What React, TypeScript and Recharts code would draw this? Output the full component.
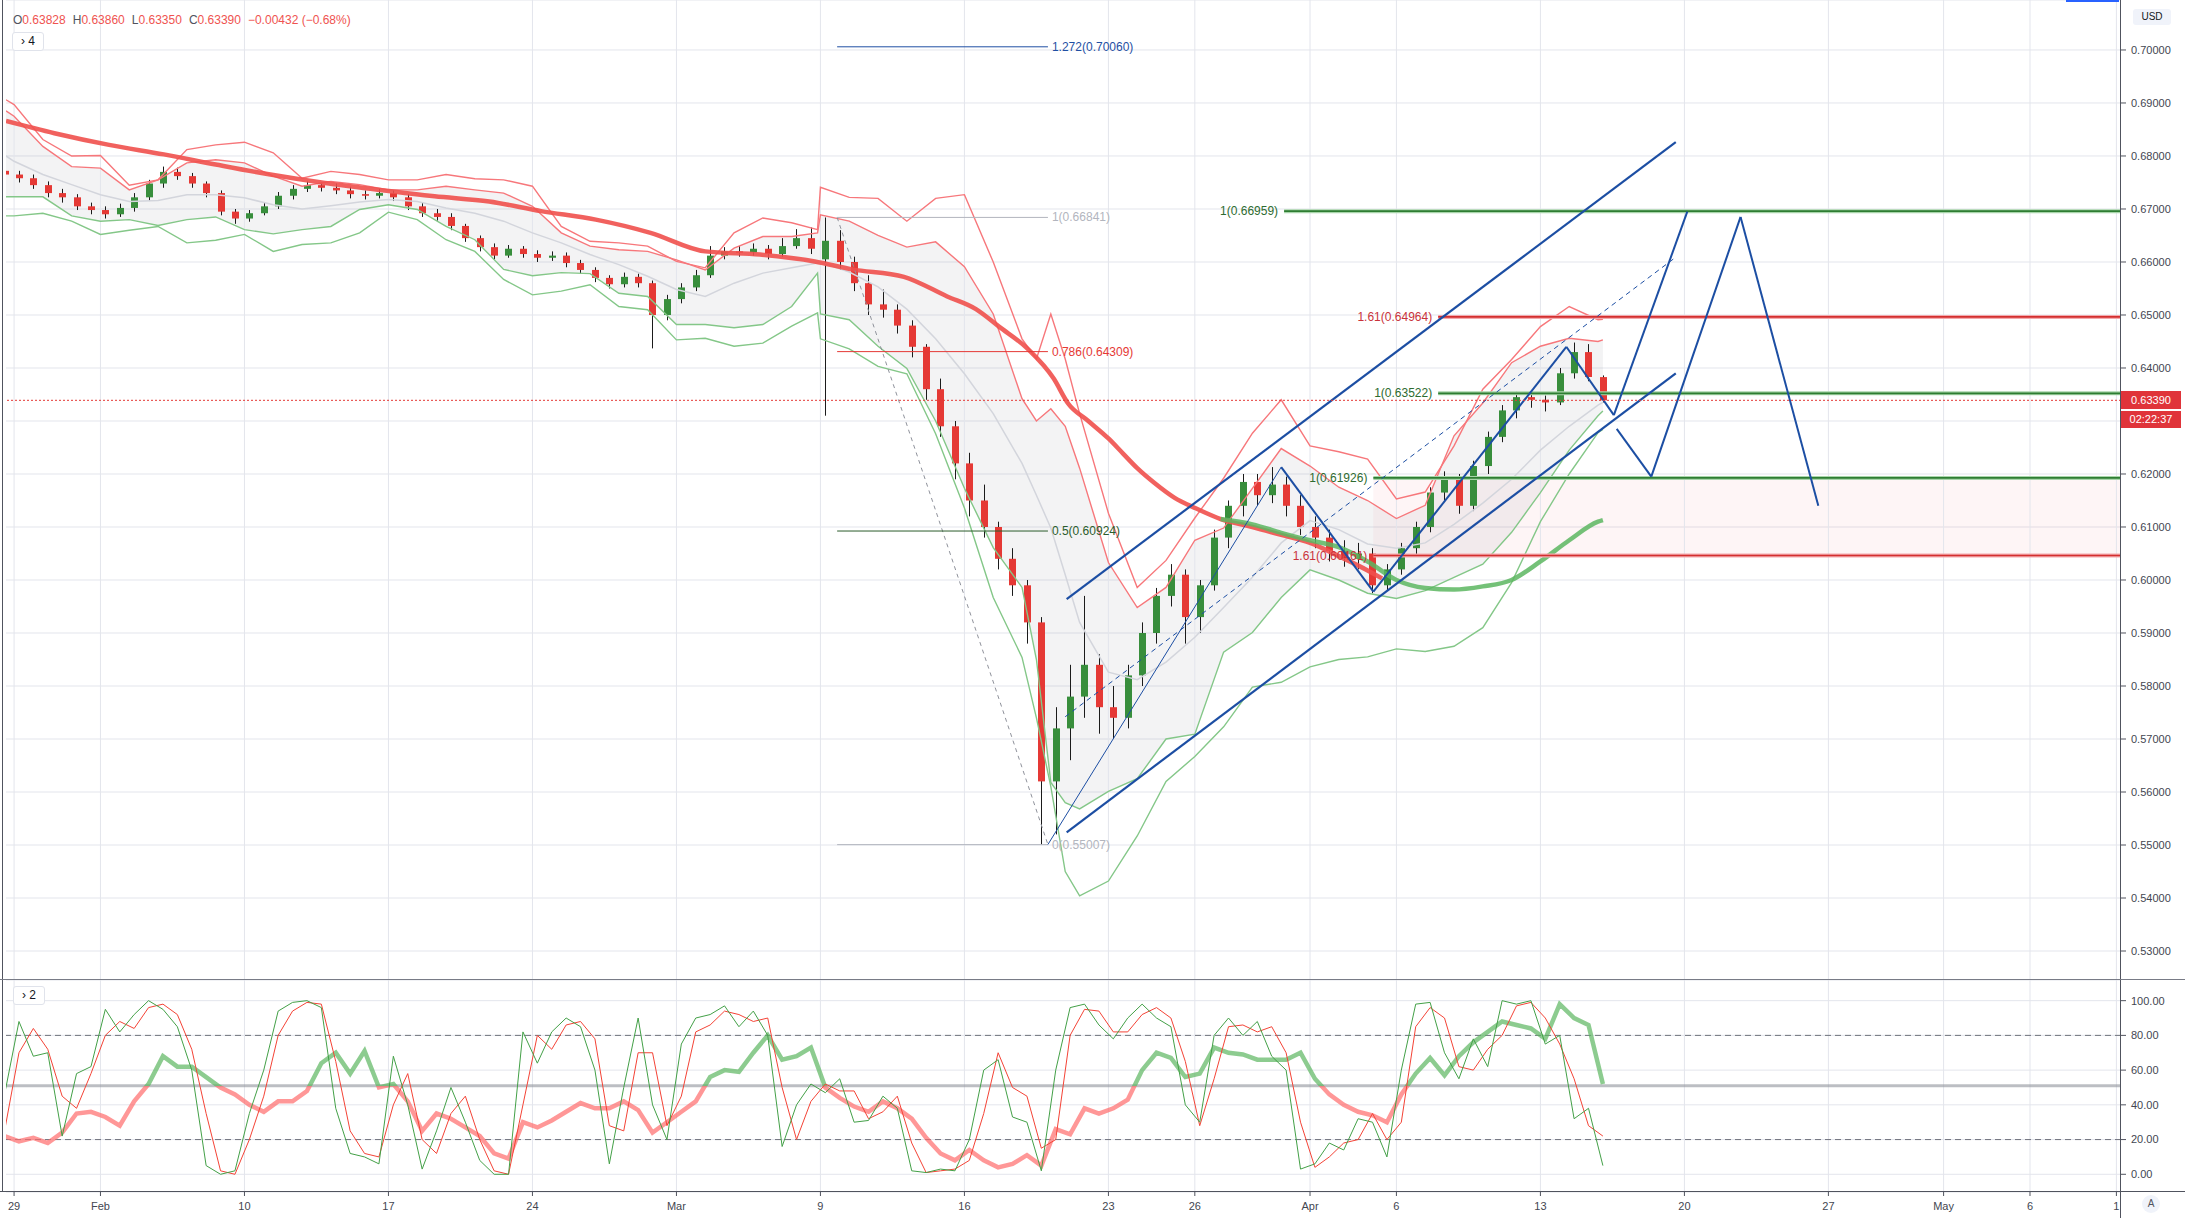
import React from "react";
import {
  ComposedChart,
  Bar,
  Line,
  Area,
  XAxis,
  YAxis,
  CartesianGrid,
  ReferenceLine,
  ReferenceArea,
} from "recharts";

// x is the trading-day index counted from Jan 29 (weekends removed)

const WIDTH = 2185;
const MAIN_H = 980;
const OSC_H = 238;
const AXIS_W = 64;
const TIME_AXIS_H = 26;
const BODY_W = 7;
const FONT = '"Liberation Sans", Arial, sans-serif';

const X_DOMAIN: [number, number] = [-0.28, 73.16];
const PRICE_DOMAIN: [number, number] = [0.52453, 0.70943];
const OSC_DOMAIN: [number, number] = [-10.2, 111.9];

const tickDays = [0, 3, 8, 13, 18, 23, 28, 33, 38, 41, 45, 48, 53, 58, 63, 67, 70, 73];
const tickLabels = ["29", "Feb", "10", "17", "24", "Mar", "9", "16", "23", "26", "Apr", "6", "13", "20", "27", "May", "6", "1"];
const priceTicks = [0.53, 0.54, 0.55, 0.56, 0.57, 0.58, 0.59, 0.6, 0.61, 0.62, 0.63, 0.64, 0.65, 0.66, 0.67, 0.68, 0.69, 0.7];
const oscTicks = [0, 20, 40, 60, 80, 100];

// candles, two per trading day
const opens = [
  0.6772, 0.6765, 0.6758, 0.6745, 0.673, 0.6722, 0.6705, 0.6698, 0.669, 0.6702,
  0.6722, 0.6748, 0.677, 0.6762, 0.6748, 0.673, 0.6695, 0.6682, 0.6692, 0.6705,
  0.6725, 0.6738, 0.6745, 0.674, 0.6735, 0.6728, 0.6725, 0.673, 0.6722, 0.6705,
  0.6692, 0.6685, 0.6668, 0.6645, 0.6628, 0.6612, 0.6625, 0.6615, 0.6608, 0.6612,
  0.6598, 0.6585, 0.657, 0.6558, 0.6572, 0.656, 0.65, 0.653, 0.6552, 0.6575,
  0.6612, 0.662, 0.6618, 0.6625, 0.6615, 0.663, 0.6645, 0.6605, 0.664, 0.66,
  0.656, 0.652, 0.651, 0.648, 0.644, 0.636, 0.629, 0.622, 0.615, 0.61,
  0.604, 0.599, 0.592, 0.562, 0.572, 0.578, 0.584, 0.576, 0.574, 0.582,
  0.59, 0.597, 0.601, 0.593, 0.599, 0.608, 0.614, 0.6185, 0.616, 0.618,
  0.614, 0.61, 0.608, 0.6055, 0.604, 0.605, 0.599, 0.602, 0.606, 0.61,
  0.6165, 0.619, 0.614, 0.6215, 0.627, 0.632, 0.6345, 0.634, 0.6335, 0.639,
  0.643, 0.63828,
];
const highs = [
  0.6778, 0.6772, 0.6765, 0.6752, 0.6738, 0.6728, 0.6712, 0.6705, 0.671, 0.673,
  0.6755, 0.678, 0.6778, 0.6768, 0.6752, 0.6735, 0.67, 0.6698, 0.6712, 0.6732,
  0.6745, 0.6752, 0.675, 0.6748, 0.6742, 0.6735, 0.6738, 0.6735, 0.6728, 0.6712,
  0.67, 0.6692, 0.6672, 0.665, 0.6635, 0.6632, 0.663, 0.6622, 0.662, 0.6618,
  0.6604, 0.659, 0.6575, 0.658, 0.6578, 0.6565, 0.6538, 0.656, 0.6585, 0.663,
  0.6628, 0.663, 0.6635, 0.6632, 0.6645, 0.6662, 0.6665, 0.6684, 0.666, 0.661,
  0.6575, 0.6548, 0.652, 0.649, 0.6445, 0.638, 0.63, 0.624, 0.618, 0.611,
  0.606, 0.6, 0.593, 0.576, 0.584, 0.597, 0.586, 0.58, 0.584, 0.592,
  0.5985, 0.603, 0.602, 0.6, 0.6095, 0.615, 0.62, 0.62, 0.6213, 0.6195,
  0.616, 0.612, 0.6095, 0.6075, 0.607, 0.606, 0.603, 0.607, 0.611, 0.6175,
  0.6205, 0.62, 0.6225, 0.628, 0.633, 0.6355, 0.6352, 0.6348, 0.64, 0.6448,
  0.6445, 0.6386,
];
const lows = [
  0.676, 0.675, 0.6738, 0.6722, 0.6712, 0.6698, 0.669, 0.6682, 0.6685, 0.6695,
  0.6715, 0.674, 0.6755, 0.674, 0.6722, 0.6688, 0.6672, 0.6676, 0.6688, 0.67,
  0.6718, 0.6732, 0.6733, 0.6728, 0.672, 0.6718, 0.672, 0.6715, 0.6698, 0.6685,
  0.6678, 0.666, 0.6638, 0.662, 0.6605, 0.6608, 0.6608, 0.66, 0.6602, 0.659,
  0.6578, 0.6562, 0.655, 0.6552, 0.6552, 0.6437, 0.649, 0.6522, 0.6545, 0.657,
  0.6605, 0.661, 0.6612, 0.6605, 0.661, 0.6625, 0.6615, 0.631, 0.6585, 0.6545,
  0.65, 0.6495, 0.6465, 0.642, 0.634, 0.627, 0.619, 0.612, 0.608, 0.602,
  0.597, 0.588, 0.5501, 0.552, 0.566, 0.574, 0.571, 0.57, 0.572, 0.58,
  0.588, 0.595, 0.588, 0.59, 0.598, 0.606, 0.612, 0.614, 0.6145, 0.612,
  0.6085, 0.606, 0.6035, 0.6025, 0.602, 0.5975, 0.598, 0.601, 0.6045, 0.609,
  0.615, 0.6125, 0.613, 0.62, 0.626, 0.6305, 0.6325, 0.6318, 0.633, 0.638,
  0.6375, 0.6335,
];
const closes = [
  0.6765, 0.6758, 0.6745, 0.673, 0.6722, 0.6705, 0.6698, 0.669, 0.6702, 0.6722,
  0.6748, 0.677, 0.6762, 0.6748, 0.673, 0.6695, 0.6682, 0.6692, 0.6705, 0.6725,
  0.6738, 0.6745, 0.674, 0.6735, 0.6728, 0.6725, 0.673, 0.6722, 0.6705, 0.6692,
  0.6685, 0.6668, 0.6645, 0.6628, 0.6612, 0.6625, 0.6615, 0.6608, 0.6612, 0.6598,
  0.6585, 0.657, 0.6558, 0.6572, 0.656, 0.65, 0.653, 0.6552, 0.6575, 0.6612,
  0.662, 0.6618, 0.6625, 0.6615, 0.663, 0.6645, 0.6625, 0.664, 0.66, 0.656,
  0.652, 0.651, 0.648, 0.644, 0.636, 0.629, 0.622, 0.615, 0.61, 0.604,
  0.599, 0.592, 0.562, 0.572, 0.578, 0.584, 0.576, 0.574, 0.582, 0.59,
  0.597, 0.601, 0.593, 0.599, 0.608, 0.614, 0.6185, 0.616, 0.618, 0.614,
  0.61, 0.608, 0.6055, 0.604, 0.605, 0.599, 0.602, 0.606, 0.61, 0.6165,
  0.619, 0.614, 0.6215, 0.627, 0.632, 0.6345, 0.634, 0.6335, 0.639, 0.643,
  0.6383, 0.6339,
];

// envelope lines, read once per day (plus a few extra points at the spikes)
const bandDays = [
  -0.28, 0, 1, 2, 3, 4, 5, 6, 7, 8, 9, 10, 11, 12, 13, 14, 15, 16, 17, 18, 19, 20,
  21, 22, 23, 24, 25, 26, 27, 27.9, 28, 29, 30, 31, 32, 33, 34, 35, 35.5, 36, 36.5,
  37, 38, 39, 40, 41, 42, 43, 44, 45, 46, 47, 48, 49, 50, 51, 52, 53, 54, 55, 55.17,
];
const upperOuter = [
  0.6906, 0.6897, 0.6831, 0.68, 0.6801, 0.6745, 0.6755, 0.6812, 0.6821, 0.6826, 0.6806, 0.6758,
  0.6771, 0.6765, 0.6755, 0.6755, 0.6765, 0.6757, 0.6755, 0.6743, 0.6667, 0.6639, 0.6636, 0.663,
  0.6601, 0.6589, 0.6655, 0.6683, 0.6674, 0.6661, 0.6741, 0.6722, 0.672, 0.6677, 0.672, 0.6727,
  0.66, 0.6455, 0.6417, 0.6502, 0.6417, 0.6314, 0.6126, 0.5986, 0.6037, 0.6117, 0.6192, 0.6277,
  0.634, 0.6253, 0.6242, 0.6228, 0.6153, 0.6166, 0.6253, 0.636, 0.6416, 0.6478, 0.6516, 0.6491,
  0.6492,
];
const upperInner = [
  0.6885, 0.6875, 0.6818, 0.678, 0.6777, 0.6736, 0.6755, 0.6787, 0.6793, 0.6787, 0.6762, 0.6743,
  0.6752, 0.6746, 0.6736, 0.6736, 0.6743, 0.6736, 0.673, 0.6705, 0.6655, 0.663, 0.6623, 0.662,
  0.6604, 0.6585, 0.6626, 0.6648, 0.6648, 0.6655, 0.6689, 0.6677, 0.665, 0.6628, 0.6638, 0.6591,
  0.6502, 0.6342, 0.63, 0.6323, 0.629, 0.6211, 0.6033, 0.5948, 0.5986, 0.6075, 0.6098, 0.6173,
  0.6248, 0.6215, 0.6175, 0.615, 0.6116, 0.6141, 0.6272, 0.6334, 0.641, 0.6441, 0.6456, 0.645,
  0.6453,
];
const middleBand = [
  0.68, 0.679, 0.6765, 0.6746, 0.6727, 0.6714, 0.6716, 0.6727, 0.6727, 0.6721, 0.6708, 0.67,
  0.6706, 0.6713, 0.6718, 0.6714, 0.6702, 0.6692, 0.6677, 0.6655, 0.6636, 0.6614, 0.6595, 0.6573,
  0.6548, 0.6535, 0.656, 0.6579, 0.6589, 0.6598, 0.66, 0.6581, 0.6553, 0.6511, 0.6455, 0.6389,
  0.6314, 0.622, 0.616, 0.6098, 0.601, 0.592, 0.5826, 0.5812, 0.5845, 0.5892, 0.5948, 0.6005,
  0.607, 0.6112, 0.6095, 0.6068, 0.606, 0.607, 0.6105, 0.6145, 0.619, 0.6245, 0.629, 0.633,
  0.6335,
];
const lowerInner = [
  0.6723, 0.6723, 0.6723, 0.6687, 0.6677, 0.668, 0.6669, 0.668, 0.6685, 0.6661, 0.6653, 0.6661,
  0.6667, 0.6699, 0.6708, 0.6699, 0.6667, 0.6642, 0.6586, 0.6574, 0.658, 0.6578, 0.6541, 0.6535,
  0.6482, 0.6482, 0.6476, 0.6482, 0.6516, 0.6579, 0.6502, 0.6491, 0.6441, 0.6399, 0.63, 0.6173,
  0.6061, 0.5986, 0.585, 0.5618, 0.558, 0.5568, 0.5601, 0.5625, 0.57, 0.5709, 0.5864, 0.5901,
  0.5967, 0.6019, 0.6, 0.5975, 0.5965, 0.598, 0.6005, 0.603, 0.609, 0.6165, 0.6245, 0.631,
  0.6319,
];
const lowerOuter = [
  0.6687, 0.6687, 0.6692, 0.6677, 0.6652, 0.666, 0.6667, 0.6636, 0.6641, 0.6652, 0.662, 0.6633,
  0.6636, 0.6655, 0.6694, 0.668, 0.6642, 0.662, 0.6567, 0.6538, 0.6545, 0.6557, 0.6516, 0.651,
  0.6453, 0.6456, 0.6441, 0.6447, 0.6479, 0.6504, 0.6455, 0.6436, 0.6403, 0.6389, 0.6276, 0.6136,
  0.5967, 0.5854, 0.574, 0.561, 0.545, 0.5404, 0.5432, 0.5517, 0.562, 0.5667, 0.5723, 0.5798,
  0.5807, 0.5836, 0.585, 0.5855, 0.587, 0.5865, 0.5875, 0.591, 0.5995, 0.611, 0.62, 0.6278,
  0.6284,
];

// thick moving averages
const maRedDays = [
  -0.28, 1.4, 3.3, 5.2, 7, 8.9, 10.8, 12.7, 14.6, 16.5, 18.3, 20.2, 22.1, 24, 25.9, 27.8, 29.1, 30.9, 32.4,
  33.4, 34.2, 35.2, 36.1, 36.6, 37.3, 38, 38.5, 39, 39.6, 40.3, 41, 41.9, 43, 44, 45, 46, 47, 47.5,
];
const maRed = [
  0.6866, 0.6843, 0.6821, 0.6803, 0.6784, 0.6765, 0.6749, 0.6736, 0.6724, 0.6714, 0.6696, 0.668, 0.6655,
  0.662, 0.6614, 0.6601, 0.6586, 0.6572, 0.6535, 0.6511, 0.6478, 0.6436, 0.638, 0.6333, 0.63, 0.6267,
  0.6239, 0.6211, 0.6183, 0.6155, 0.6136, 0.6115, 0.61, 0.6085, 0.607, 0.6045, 0.6018, 0.6003,
];
const maGreenDays = [41.9, 43, 44, 45, 46, 47, 48, 49, 50, 51, 52, 53, 54, 55, 55.17];
const maGreen = [0.6115, 0.6105, 0.6089, 0.6075, 0.6062, 0.6035, 0.6, 0.5985, 0.5982, 0.5988, 0.6, 0.6035, 0.6075, 0.611, 0.6113];

// lower pane: fast stochastic, slow stochastic, thick momentum line
const stochK = [
  46, 88, 68, 70, 22, 58, 62, 95, 82, 92, 100, 95, 85, 60, 5, 0, 2, 35, 60, 94,
  99, 100, 96, 38, 12, 10, 6, 68, 40, 3, 25, 50, 30, 8, 0, 0, 82, 64, 82, 90,
  85, 60, 6, 50, 90, 40, 20, 75, 90, 92, 97, 85, 94, 80, 16, 40, 52, 47, 55, 30,
  31, 45, 38, 2, 1, 3, 2, 20, 60, 66, 33, 30, 2, 60, 96, 98, 86, 78, 90, 98,
  90, 85, 40, 30, 80, 90, 80, 88, 68, 60, 3, 6, 18, 14, 32, 30, 10, 60, 98, 99,
  70, 55, 78, 62, 100, 98, 100, 75, 80, 32, 38, 5,
];
const stochD = [
  25, 70, 84, 72, 45, 38, 58, 80, 88, 84, 96, 98, 92, 72, 35, 2, 0, 20, 45, 80,
  94, 99, 98, 65, 25, 12, 10, 40, 58, 20, 12, 35, 45, 20, 2, 0, 40, 80, 72, 86,
  88, 78, 28, 25, 70, 70, 28, 45, 82, 86, 94, 92, 88, 90, 50, 20, 42, 52, 48, 48,
  32, 36, 45, 18, 1, 2, 3, 8, 35, 70, 50, 45, 15, 20, 80, 95, 94, 82, 82, 92,
  96, 90, 65, 28, 55, 85, 86, 82, 85, 70, 30, 4, 10, 18, 20, 35, 20, 30, 85, 96,
  90, 62, 60, 72, 80, 97, 99, 90, 75, 55, 28, 22,
];
const momentum = [
  22, 19, 21, 18, 24, 35, 36, 33, 28, 42, 52, 68, 62, 62, 56, 50, 46, 40, 36, 42,
  42, 48, 64, 70, 58, 71, 50, 52, 42, 25, 35, 32, 27, 22, 12, 9, 30, 27, 31, 36,
  41, 38, 38, 42, 37, 24, 30, 36, 42, 56, 60, 59, 70, 80, 66, 68, 73, 50, 44, 39,
  36, 42, 38, 32, 21, 12, 8, 14, 8, 4, 6, 11, 5, 26, 23, 38, 35, 38, 43, 60,
  70, 67, 56, 58, 73, 70, 69, 66, 66, 66, 70, 55, 46, 40, 36, 34, 30, 46, 58, 67,
  57, 68, 76, 82, 88, 86, 84, 78, 98, 90, 86, 52,
];
const MOMENTUM_SPLIT = 51;

// drawings
const fibFrom = 28.58;
const fibTo = 35.9;
const fibPrices = [0.7006, 0.66841, 0.64309, 0.60924, 0.55007];
const fibNames = ["1.272(0.70060)", "1(0.66841)", "0.786(0.64309)", "0.5(0.60924)", "0(0.55007)"];
const fibColors = ["#1f4fa3", "#b2b5be", "#e53935", "#2b5c2b", "#b2b5be"];

const levelPrices = [0.66959, 0.64964, 0.63522, 0.61926, 0.60461];
const levelStarts = [44.1, 49.45, 49.45, 47.2, 47.2];
const levelNames = ["1(0.66959)", "1.61(0.64964)", "1(0.63522)", "1(0.61926)", "1.61(0.60461)"];
const levelIsRed = [false, true, false, false, true];

const channelLines = [
  [36.55, 0.5964, 57.7, 0.6826],
  [36.55, 0.5524, 57.7, 0.639],
];
const patternLegs = [
  [44.0, 0.6213, 47.2, 0.5978],
  [47.2, 0.5978, 53.9, 0.644],
  [53.9, 0.644, 55.55, 0.6311],
  [55.55, 0.6311, 58.1, 0.6695],
  [55.65, 0.6285, 56.85, 0.6195],
  [56.85, 0.6195, 59.95, 0.6685],
  [59.95, 0.6685, 62.65, 0.614],
];
const thinLeg = [35.9, 0.5501, 44.0, 0.6213];
const dashedMid = [36.5, 0.5742, 57.7, 0.6609];
const fibDiagonal = [28.58, 0.66841, 35.9, 0.55007];
const lastPrice = 0.6339;
const countdown = "02:22:37";

const COLORS = {
  grid: "#e3e5ec",
  axis: "#50535e",
  text: "#434651",
  up: "#388e3c",
  down: "#e53935",
  wick: "#1b1b1b",
  bandRed: "#f7777b",
  bandGreen: "#84c788",
  mid: "#d3d5dc",
  maRed: "#f0504d",
  maGreen: "#5cb660",
  blue: "#1c4ea3",
  green: "#2e7d32",
  greenHalo: "#a8d5aa",
  red: "#d32f2f",
  redHalo: "#f3a9ad",
  tag: "#e0343a",
};

const candles = closes.map((c, i) => ({ x: i * 0.5 - 0.33, o: opens[i], h: highs[i], l: lows[i], c }));
const bandRows = bandDays.map((x, i) => ({
  x,
  uo: upperOuter[i],
  ui: upperInner[i],
  mid: middleBand[i],
  li: lowerInner[i],
  lo: lowerOuter[i],
}));
const maRedRows = maRedDays.map((x, i) => ({ x, v: maRed[i] }));
const maGreenRows = maGreenDays.map((x, i) => ({ x, v: maGreen[i] }));
const oscRows = stochK.map((k, i) => ({ x: i * 0.5 - 0.33, k, d: stochD[i], m: momentum[i] }));

const seg = (s: number[]) => [
  { x: s[0], y: s[1] },
  { x: s[2], y: s[3] },
];

// pixel row of the last price on the axis, for the html price tag
const tagY = ((PRICE_DOMAIN[1] - lastPrice) / (PRICE_DOMAIN[1] - PRICE_DOMAIN[0])) * MAIN_H;

function Candle(props: any) {
  const { x, y, width, height, payload } = props;
  if (payload == null || x == null || y == null) return null;
  const top = Math.min(y, y + height);
  const h = Math.abs(height);
  const span = payload.h - payload.l || 1e-9;
  const toY = (v: number) => top + ((payload.h - v) / span) * h;
  const cx = Math.round(x + (width || 0) / 2) + 0.5;
  const bodyTop = toY(Math.max(payload.o, payload.c));
  const bodyBot = toY(Math.min(payload.o, payload.c));
  const up = payload.c >= payload.o;
  return (
    <g>
      <line x1={cx} x2={cx} y1={top} y2={top + h} stroke={COLORS.wick} strokeWidth={1} />
      <rect
        x={cx - BODY_W / 2}
        y={bodyTop}
        width={BODY_W}
        height={Math.max(1.5, bodyBot - bodyTop)}
        fill={up ? COLORS.up : COLORS.down}
      />
    </g>
  );
}

function sideLabel(text: string, color: string, side: "left" | "right") {
  return (props: any) => {
    const vb = props.viewBox || {};
    const x = side === "right" ? vb.x + vb.width + 4 : vb.x - 6;
    return (
      <text
        x={x}
        y={vb.y}
        dy={4}
        fill={color}
        fontSize={12}
        fontFamily={FONT}
        textAnchor={side === "right" ? "start" : "end"}
      >
        {text}
      </text>
    );
  };
}

const tickName = (v: number) => {
  const i = tickDays.indexOf(v);
  return i >= 0 ? tickLabels[i] : "";
};

const splitOffset = (OSC_DOMAIN[1] - MOMENTUM_SPLIT) / (OSC_DOMAIN[1] - OSC_DOMAIN[0]);

const tagStyle: React.CSSProperties = {
  position: "absolute",
  left: 2121,
  width: 60,
  background: COLORS.tag,
  color: "#fff",
  fontSize: 11,
  textAlign: "center",
};

export default function App() {
  return (
    <div
      style={{
        position: "relative",
        width: WIDTH,
        height: 1218,
        background: "#fff",
        fontFamily: FONT,
        overflow: "hidden",
      }}
    >
      <style>{"body{margin:0;background:#fff}"}</style>

      <div style={{ position: "absolute", left: 0, top: 0 }}>
        <ComposedChart
          width={WIDTH}
          height={MAIN_H}
          data={candles}
          margin={{ top: 0, right: 0, bottom: 0, left: 6 }}
        >
          <CartesianGrid vertical={false} stroke={COLORS.grid} />
          {tickDays.map((d) => (
            <ReferenceLine key={`vg${d}`} x={d} stroke={COLORS.grid} />
          ))}
          <XAxis dataKey="x" type="number" domain={X_DOMAIN} allowDataOverflow hide />
          <YAxis
            orientation="right"
            width={AXIS_W}
            domain={PRICE_DOMAIN}
            ticks={priceTicks}
            interval={0}
            allowDataOverflow
            axisLine={false}
            tickSize={5}
            tickMargin={5}
            tickLine={{ stroke: COLORS.axis }}
            tick={{ fill: COLORS.text, fontSize: 11 }}
            tickFormatter={(v: number) => v.toFixed(5)}
          />

          <ReferenceArea
            x1={levelStarts[3]}
            x2={X_DOMAIN[1]}
            y1={levelPrices[4]}
            y2={levelPrices[3]}
            fill="#f23645"
            fillOpacity={0.05}
            stroke="none"
          />

          <Area
            data={bandRows}
            dataKey={(r: any) => [r.li, r.ui]}
            type="linear"
            stroke="none"
            fill="#8a8d96"
            fillOpacity={0.1}
            isAnimationActive={false}
          />
          <Line data={bandRows} dataKey="mid" type="linear" stroke={COLORS.mid} strokeWidth={1.5} dot={false} isAnimationActive={false} />
          <Line data={bandRows} dataKey="uo" type="linear" stroke={COLORS.bandRed} strokeWidth={1.4} dot={false} isAnimationActive={false} />
          <Line data={bandRows} dataKey="ui" type="linear" stroke={COLORS.bandRed} strokeWidth={1.4} dot={false} isAnimationActive={false} />
          <Line data={bandRows} dataKey="li" type="linear" stroke={COLORS.bandGreen} strokeWidth={1.4} dot={false} isAnimationActive={false} />
          <Line data={bandRows} dataKey="lo" type="linear" stroke={COLORS.bandGreen} strokeWidth={1.4} dot={false} isAnimationActive={false} />
          <Line data={maRedRows} dataKey="v" type="monotone" stroke={COLORS.maRed} strokeOpacity={0.9} strokeWidth={4.5} dot={false} isAnimationActive={false} />
          <Line data={maGreenRows} dataKey="v" type="monotone" stroke={COLORS.maGreen} strokeOpacity={0.85} strokeWidth={4.5} dot={false} isAnimationActive={false} />

          <Bar
            dataKey={(r: any) => [r.l, r.h]}
            barSize={BODY_W}
            isAnimationActive={false}
            shape={(p: any) => <Candle {...p} />}
          />

          {/* fibonacci retracement */}
          <ReferenceLine
            segment={seg(fibDiagonal)}
            stroke="#8f929b"
            strokeDasharray="4 4"
            ifOverflow="visible"
          />
          {fibPrices.map((p, i) => (
            <ReferenceLine
              key={`fib${i}`}
              segment={seg([fibFrom, p, fibTo, p])}
              stroke={fibColors[i]}
              strokeWidth={1}
              ifOverflow="visible"
              label={sideLabel(fibNames[i], fibColors[i], "right")}
            />
          ))}

          {/* projected levels */}
          {levelPrices.map((p, i) => (
            <ReferenceLine
              key={`lh${i}`}
              segment={seg([levelStarts[i], p, X_DOMAIN[1], p])}
              stroke={levelIsRed[i] ? COLORS.redHalo : COLORS.greenHalo}
              strokeWidth={4}
              ifOverflow="visible"
            />
          ))}
          {levelPrices.map((p, i) => (
            <ReferenceLine
              key={`lv${i}`}
              segment={seg([levelStarts[i], p, X_DOMAIN[1], p])}
              stroke={levelIsRed[i] ? COLORS.red : COLORS.green}
              strokeWidth={1.6}
              ifOverflow="visible"
              label={sideLabel(levelNames[i], levelIsRed[i] ? "#c9323a" : "#2e6b30", "left")}
            />
          ))}

          {/* channel and pattern */}
          <ReferenceLine segment={seg(thinLeg)} stroke={COLORS.blue} strokeWidth={1} ifOverflow="visible" />
          <ReferenceLine
            segment={seg(dashedMid)}
            stroke={COLORS.blue}
            strokeWidth={1}
            strokeDasharray="5 4"
            ifOverflow="visible"
          />
          {channelLines.map((s, i) => (
            <ReferenceLine key={`ch${i}`} segment={seg(s)} stroke={COLORS.blue} strokeWidth={2.2} ifOverflow="visible" />
          ))}
          {patternLegs.map((s, i) => (
            <ReferenceLine key={`pl${i}`} segment={seg(s)} stroke={COLORS.blue} strokeWidth={2} ifOverflow="visible" />
          ))}

          <ReferenceLine y={lastPrice} stroke="#e53935" strokeDasharray="2 2" ifOverflow="visible" />
        </ComposedChart>
      </div>

      <div style={{ position: "absolute", left: 0, top: MAIN_H }}>
        <ComposedChart
          width={WIDTH}
          height={OSC_H}
          data={oscRows}
          margin={{ top: 0, right: 0, bottom: 0, left: 6 }}
        >
          <defs>
            <linearGradient
              id="momentumStroke"
              gradientUnits="userSpaceOnUse"
              x1="0"
              y1="0"
              x2="0"
              y2={OSC_H - TIME_AXIS_H}
            >
              <stop offset={splitOffset} stopColor="#5cb660" />
              <stop offset={splitOffset} stopColor="#ff6b6b" />
            </linearGradient>
          </defs>
          <CartesianGrid vertical={false} stroke={COLORS.grid} />
          {tickDays.map((d) => (
            <ReferenceLine key={`og${d}`} x={d} stroke={COLORS.grid} />
          ))}
          <XAxis
            dataKey="x"
            type="number"
            domain={X_DOMAIN}
            allowDataOverflow
            ticks={tickDays}
            interval={0}
            height={TIME_AXIS_H}
            axisLine={false}
            tickSize={4}
            tickMargin={6}
            tickLine={{ stroke: COLORS.axis }}
            tick={{ fill: COLORS.text, fontSize: 11 }}
            tickFormatter={tickName}
          />
          <YAxis
            orientation="right"
            width={AXIS_W}
            domain={OSC_DOMAIN}
            ticks={oscTicks}
            interval={0}
            allowDataOverflow
            axisLine={false}
            tickSize={5}
            tickMargin={5}
            tickLine={{ stroke: COLORS.axis }}
            tick={{ fill: COLORS.text, fontSize: 11 }}
            tickFormatter={(v: number) => v.toFixed(2)}
          />
          <ReferenceLine y={80} stroke="#6f727c" strokeDasharray="6 4" />
          <ReferenceLine y={20} stroke="#6f727c" strokeDasharray="6 4" />
          <ReferenceLine y={MOMENTUM_SPLIT} stroke="#8f929b" strokeOpacity={0.6} strokeWidth={3} />
          <Line dataKey="m" type="linear" stroke="url(#momentumStroke)" strokeOpacity={0.7} strokeWidth={4.5} dot={false} isAnimationActive={false} />
          <Line dataKey="d" type="linear" stroke="#f44336" strokeWidth={1} dot={false} isAnimationActive={false} />
          <Line dataKey="k" type="linear" stroke="#43a047" strokeWidth={1} dot={false} isAnimationActive={false} />
        </ComposedChart>
      </div>

      {/* frame lines */}
      <div style={{ position: "absolute", left: 2, top: 0, width: 1, height: 1192, background: COLORS.axis }} />
      <div style={{ position: "absolute", left: 2120, top: 0, width: 1, height: 1218, background: COLORS.axis }} />
      <div style={{ position: "absolute", left: 0, top: MAIN_H - 1, width: WIDTH, height: 1, background: "#787b86" }} />
      <div style={{ position: "absolute", left: 0, top: 1191, width: WIDTH, height: 1, background: COLORS.axis }} />
      <div style={{ position: "absolute", left: 2066, top: 0, width: 53, height: 2, background: "#2962ff" }} />

      {/* last price tag and bar countdown */}
      <div style={{ ...tagStyle, top: tagY - 9, height: 18, lineHeight: "18px" }}>{lastPrice.toFixed(5)}</div>
      <div style={{ ...tagStyle, top: tagY + 11, height: 17, lineHeight: "17px" }}>{countdown}</div>

      {/* legend */}
      <div
        style={{
          position: "absolute",
          left: 13,
          top: 12,
          fontSize: 12,
          lineHeight: "16px",
          whiteSpace: "nowrap",
          color: "#ef5350",
        }}
      >
        {[
          ["O", "0.63828"],
          ["H", "0.63860"],
          ["L", "0.63350"],
          ["C", "0.63390"],
        ].map(([k, v]) => (
          <span key={k} style={{ marginRight: 7 }}>
            <span style={{ color: "#50535e" }}>{k}</span>
            {v}
          </span>
        ))}
        <span>−0.00432 (−0.68%)</span>
      </div>
      <div
        style={{
          position: "absolute",
          left: 12,
          top: 32,
          width: 32,
          height: 19,
          border: "1px solid #e0e3eb",
          borderRadius: 3,
          background: "#fff",
          fontSize: 12,
          lineHeight: "17px",
          textAlign: "center",
          color: "#131722",
          boxSizing: "border-box",
        }}
      >
        › 4
      </div>
      <div
        style={{
          position: "absolute",
          left: 13,
          top: 986,
          width: 32,
          height: 19,
          border: "1px solid #e0e3eb",
          borderRadius: 3,
          background: "#fff",
          fontSize: 12,
          lineHeight: "17px",
          textAlign: "center",
          color: "#131722",
          boxSizing: "border-box",
        }}
      >
        › 2
      </div>
      <div
        style={{
          position: "absolute",
          left: 2133,
          top: 9,
          width: 38,
          height: 16,
          borderRadius: 3,
          background: "#f0f3fa",
          fontSize: 10,
          lineHeight: "16px",
          textAlign: "center",
          color: "#131722",
        }}
      >
        USD
      </div>
      <div
        style={{
          position: "absolute",
          left: 2142,
          top: 1195,
          width: 18,
          height: 18,
          borderRadius: 9,
          background: "#f0f3fa",
          fontSize: 10,
          lineHeight: "18px",
          textAlign: "center",
          color: "#50535e",
        }}
      >
        A
      </div>
    </div>
  );
}
